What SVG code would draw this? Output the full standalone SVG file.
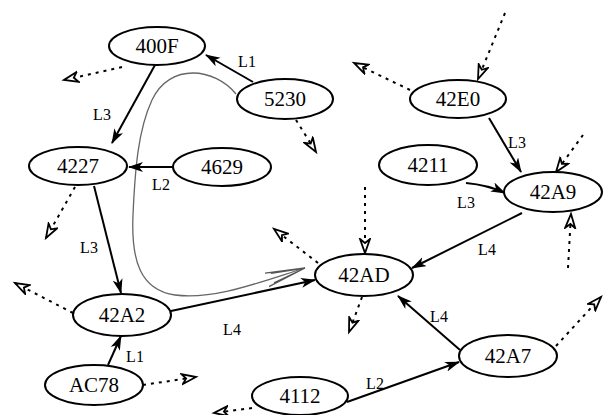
<svg xmlns="http://www.w3.org/2000/svg" width="605" height="415" viewBox="0 0 605 415">
<style>
.node ellipse{fill:#fff;stroke:#000;stroke-width:2}
.node text{font-family:"Liberation Serif","Times New Roman",serif;font-size:21px;fill:#000;text-anchor:middle}
.solid{stroke:#000;stroke-width:2;fill:none;marker-end:url(#fa)}
.dot{stroke:#000;stroke-width:2;fill:none;stroke-dasharray:3,5;marker-end:url(#oa)}
.curve{stroke:#666;stroke-width:1.3;fill:none;marker-end:url(#ca)}
.lbl{font-family:"Liberation Serif","Times New Roman",serif;font-size:16px;fill:#000;text-anchor:middle}
</style>
<defs>
<marker id="fa" markerUnits="userSpaceOnUse" markerWidth="16" markerHeight="12" refX="14" refY="5" orient="auto">
<path d="M0,0 L15,5 L0,10 L4,5 z" fill="#000"/>
</marker>
<marker id="oa" markerUnits="userSpaceOnUse" markerWidth="18" markerHeight="14" refX="15" refY="6" orient="auto">
<path d="M1,1 L15,6 L1,11 L5,6 z" fill="#fff" stroke="#000" stroke-width="1.8"/>
</marker>
<marker id="ca" markerUnits="userSpaceOnUse" markerWidth="44" markerHeight="20" refX="40" refY="8" orient="auto">
<path d="M0,1 L40,8 L0,15 M6,3 L40,8 M6,13 L40,8" fill="none" stroke="#555" stroke-width="1.3"/>
</marker>
</defs>
<g id="connectors">
<path class="curve" d="M236,94 C215,68 170,62 152,100 C138,130 135,170 133,215 C131,260 140,290 175,295 C215,300 260,282 305,268"/>
<path class="solid" d="M253,82 L206,55"/>
<path class="solid" d="M155,65 L112,143"/>
<path class="solid" d="M173,167 L129,167"/>
<path class="solid" d="M94,186 L121,293"/>
<path class="solid" d="M108,365 L121,336"/>
<path class="solid" d="M171,311 L315,280"/>
<path class="solid" d="M489,118 L521,172"/>
<path class="solid" d="M466,183 Q488,185 505,193"/>
<path class="solid" d="M522,213 L412,268"/>
<path class="solid" d="M460,350 L398,296"/>
<path class="solid" d="M347,402 L459,362"/>
<path class="dot" d="M122,67 L64,80"/>
<path class="dot" d="M296,120 L316,152"/>
<path class="dot" d="M505,13 L478,79"/>
<path class="dot" d="M410,90 L354,63"/>
<path class="dot" d="M583,135 L556,172"/>
<path class="dot" d="M568,268 L571,214"/>
<path class="dot" d="M75,187 L46,238"/>
<path class="dot" d="M365,187 L365,253"/>
<path class="dot" d="M318,263 L274,229"/>
<path class="dot" d="M362,297 L349,332"/>
<path class="dot" d="M73,313 L15,283"/>
<path class="dot" d="M143,385 L196,377"/>
<path class="dot" d="M252,408 L214,413"/>
<path class="dot" d="M556,346 L601,297"/>
<text class="lbl" x="247" y="67">L1</text>
<text class="lbl" x="102" y="120">L3</text>
<text class="lbl" x="161" y="190">L2</text>
<text class="lbl" x="89" y="253">L3</text>
<text class="lbl" x="135" y="362">L1</text>
<text class="lbl" x="232" y="335">L4</text>
<text class="lbl" x="517" y="148">L3</text>
<text class="lbl" x="466" y="208">L3</text>
<text class="lbl" x="487" y="255">L4</text>
<text class="lbl" x="439" y="322">L4</text>
<text class="lbl" x="375" y="389">L2</text>
</g>
<g id="n400F" class="node"><ellipse cx="157" cy="46" rx="48" ry="19"/><text x="157" y="53">400F</text></g>
<g id="n5230" class="node"><ellipse cx="285" cy="99" rx="48" ry="20"/><text x="285" y="106">5230</text></g>
<g id="n4227" class="node"><ellipse cx="78" cy="166" rx="49" ry="19"/><text x="78" y="173">4227</text></g>
<g id="n4629" class="node"><ellipse cx="222" cy="167" rx="49" ry="19"/><text x="222" y="174">4629</text></g>
<g id="n42E0" class="node"><ellipse cx="458" cy="99" rx="48" ry="19"/><text x="458" y="106">42E0</text></g>
<g id="n4211" class="node"><ellipse cx="428" cy="165" rx="49" ry="20"/><text x="428" y="172">4211</text></g>
<g id="n42A9" class="node"><ellipse cx="553" cy="192" rx="49" ry="20"/><text x="553" y="199">42A9</text></g>
<g id="n42AD" class="node"><ellipse cx="364" cy="275" rx="49" ry="21"/><text x="364" y="282">42AD</text></g>
<g id="n42A2" class="node"><ellipse cx="122" cy="315" rx="49" ry="21"/><text x="122" y="322">42A2</text></g>
<g id="nAC78" class="node"><ellipse cx="94" cy="385" rx="49" ry="20"/><text x="94" y="392">AC78</text></g>
<g id="n4112" class="node"><ellipse cx="300" cy="396" rx="48" ry="19"/><text x="300" y="403">4112</text></g>
<g id="n42A7" class="node"><ellipse cx="508" cy="356" rx="49" ry="21"/><text x="508" y="363">42A7</text></g>
</svg>
